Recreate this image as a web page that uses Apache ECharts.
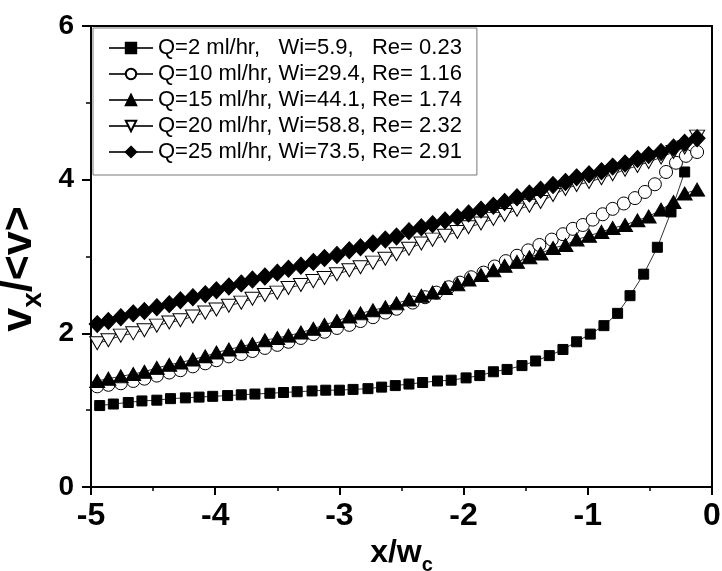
<!DOCTYPE html>
<html>
<head>
<meta charset="utf-8">
<title>Velocity profiles</title>
<script src="https://cdn.jsdelivr.net/npm/echarts@6/dist/echarts.min.js"></script>
<style>
  html, body { margin: 0; padding: 0; background: #fff; }
  #chart { width: 722px; height: 571px; }
</style>
</head>
<body>
<div id="chart"></div>
<script>
// Normalised velocity v_x/<v> against position x/w_c for five flow rates.

// x positions shared by the Q = 15, 20 and 25 ml/hr profiles
const xShared = [-4.95, -4.86, -4.76, -4.66, -4.57, -4.47, -4.37, -4.28, -4.18, -4.08,
  -3.99, -3.89, -3.79, -3.70, -3.60, -3.50, -3.41, -3.31, -3.21, -3.12,
  -3.02, -2.92, -2.83, -2.73, -2.63, -2.54, -2.44, -2.34, -2.25, -2.15,
  -2.05, -1.96, -1.86, -1.76, -1.67, -1.57, -1.47, -1.38, -1.28, -1.18,
  -1.09, -0.99, -0.89, -0.80, -0.70, -0.60, -0.51, -0.41, -0.31, -0.22, -0.12];

// Q = 2 ml/hr
const xQ2 = [-4.93, -4.82, -4.70, -4.59, -4.47, -4.36, -4.24, -4.13, -4.02, -3.90,
  -3.79, -3.68, -3.56, -3.45, -3.34, -3.22, -3.11, -3.00, -2.89, -2.77,
  -2.66, -2.55, -2.44, -2.33, -2.21, -2.10, -1.98, -1.87, -1.76, -1.65,
  -1.53, -1.42, -1.31, -1.20, -1.09, -0.98, -0.87, -0.76, -0.66, -0.55,
  -0.44, -0.33, -0.22];
const vQ2 = [1.06, 1.08, 1.10, 1.12, 1.13, 1.15, 1.16, 1.17, 1.18, 1.19,
  1.20, 1.21, 1.22, 1.23, 1.24, 1.25, 1.26, 1.26, 1.27, 1.28,
  1.30, 1.32, 1.34, 1.36, 1.38, 1.39, 1.42, 1.45, 1.50, 1.53,
  1.58, 1.64, 1.71, 1.79, 1.89, 1.99, 2.10, 2.26, 2.49, 2.77,
  3.12, 3.58, 4.10];

// Q = 10 ml/hr (denser sampling towards the wall)
const xQ10 = [-4.95, -4.86, -4.76, -4.66, -4.57, -4.47, -4.37, -4.28, -4.18, -4.08,
  -3.99, -3.89, -3.79, -3.70, -3.60, -3.50, -3.41, -3.31, -3.21, -3.12,
  -3.02, -2.92, -2.83, -2.73, -2.63, -2.54,
  -2.41, -2.31, -2.22, -2.12, -2.03, -1.94, -1.84, -1.75, -1.66, -1.57,
  -1.48, -1.39, -1.29, -1.20, -1.12, -1.04, -0.96, -0.88, -0.80, -0.71,
  -0.62, -0.54, -0.46, -0.37, -0.29, -0.21, -0.12];
const vQ10 = [1.31, 1.33, 1.35, 1.38, 1.41, 1.45, 1.49, 1.52, 1.57, 1.61,
  1.65, 1.70, 1.73, 1.77, 1.81, 1.85, 1.89, 1.94, 1.99, 2.02,
  2.07, 2.11, 2.16, 2.21, 2.27, 2.32,
  2.40, 2.47, 2.53, 2.60, 2.66, 2.73, 2.79, 2.87, 2.94, 3.01,
  3.08, 3.15, 3.22, 3.29, 3.36, 3.41, 3.48, 3.55, 3.62, 3.69,
  3.76, 3.84, 3.94, 4.10, 4.22, 4.31, 4.36];

// Q = 15 ml/hr
const vQ15 = [1.38, 1.41, 1.44, 1.47, 1.50, 1.55, 1.59, 1.62, 1.66, 1.70,
  1.75, 1.79, 1.83, 1.86, 1.91, 1.94, 1.97, 2.01, 2.06, 2.11,
  2.16, 2.22, 2.26, 2.30, 2.34, 2.39, 2.44, 2.49, 2.53, 2.59,
  2.64, 2.70, 2.76, 2.82, 2.88, 2.93, 2.99, 3.04, 3.11, 3.15,
  3.22, 3.27, 3.32, 3.37, 3.41, 3.47, 3.52, 3.61, 3.71, 3.82, 3.87];

// Q = 20 ml/hr
const vQ20 = [1.87, 1.91, 1.97, 2.00, 2.04, 2.10, 2.14, 2.17, 2.22, 2.27,
  2.31, 2.36, 2.40, 2.45, 2.50, 2.53, 2.59, 2.63, 2.68, 2.72,
  2.77, 2.82, 2.86, 2.92, 2.97, 3.03, 3.10, 3.17, 3.22, 3.27,
  3.32, 3.38, 3.43, 3.49, 3.54, 3.61, 3.66, 3.71, 3.80, 3.88,
  3.93, 3.97, 4.02, 4.07, 4.13, 4.18, 4.23, 4.29, 4.36, 4.42, 4.56];

// Q = 25 ml/hr
const vQ25 = [2.12, 2.16, 2.21, 2.26, 2.29, 2.34, 2.38, 2.43, 2.47, 2.51,
  2.56, 2.61, 2.65, 2.70, 2.74, 2.79, 2.84, 2.88, 2.93, 2.98,
  3.02, 3.08, 3.12, 3.17, 3.22, 3.26, 3.33, 3.38, 3.42, 3.47,
  3.51, 3.56, 3.61, 3.66, 3.71, 3.77, 3.82, 3.87, 3.93, 3.97,
  4.03, 4.07, 4.11, 4.17, 4.21, 4.27, 4.32, 4.36, 4.42, 4.48, 4.54];

const legendNames = [
  'Q=2 ml/hr,   Wi=5.9,   Re= 0.23',
  'Q=10 ml/hr, Wi=29.4, Re= 1.16',
  'Q=15 ml/hr, Wi=44.1, Re= 1.74',
  'Q=20 ml/hr, Wi=58.8, Re= 2.32',
  'Q=25 ml/hr, Wi=73.5, Re= 2.91'
];

const xTicks = { min: -5, max: 0, interval: 1 };
const yTicks = { min: 0, max: 6, interval: 2 };

const FONT = 'Liberation Sans, Arial, sans-serif';
const pairs = (xs, ys) => xs.map((x, i) => [x, ys[i]]);

const chart = echarts.init(document.getElementById('chart'), null, { renderer: 'canvas' });

const filled = { color: '#000', borderColor: '#000', borderWidth: 1 };
const hollow = { color: '#fff', borderColor: '#000', borderWidth: 1 };
const thinLine = { color: '#333', width: 1 };

function profile(name, data, symbol, size, style) {
  return {
    name: name,
    type: 'line',
    data: data,
    symbol: symbol,
    symbolSize: size,
    showAllSymbol: true,
    itemStyle: style,
    lineStyle: thinLine,
    emphasis: { disabled: true },
    animation: false
  };
}

chart.setOption({
  backgroundColor: '#fff',
  animation: false,
  grid: {
    left: 91, right: 10, top: 26, bottom: 84,
    show: true, borderColor: '#000', borderWidth: 2,
    outerBoundsMode: 'none'
  },
  legend: {
    orient: 'vertical',
    left: 93, top: 28,
    padding: [9, 15, 12, 15],
    itemWidth: 44, itemHeight: 13, itemGap: 4,
    backgroundColor: '#fff',
    borderColor: '#777', borderWidth: 1,
    selectedMode: false,
    textStyle: { fontFamily: FONT, fontSize: 22, lineHeight: 22, color: '#000' },
    data: legendNames
  },
  xAxis: {
    type: 'value',
    min: xTicks.min, max: xTicks.max, interval: xTicks.interval,
    axisLine: { show: true, onZero: false, lineStyle: { color: '#000', width: 2 } },
    axisTick: { show: true, inside: false, length: 8, lineStyle: { color: '#000', width: 2 } },
    minorTick: { show: true, splitNumber: 2, length: 4, lineStyle: { color: '#000', width: 1.5 } },
    splitLine: { show: false },
    axisLabel: { margin: 13, color: '#000', fontFamily: FONT, fontSize: 32, fontWeight: 'bold' },
    name: '{m|x/w}{s|c}',
    nameLocation: 'middle',
    nameGap: 25,
    nameTextStyle: {
      rich: {
        m: { fontFamily: FONT, fontSize: 32, fontWeight: 'bold', color: '#000', lineHeight: 32, verticalAlign: 'top' },
        s: { fontFamily: FONT, fontSize: 20, fontWeight: 'bold', color: '#000', lineHeight: 20, verticalAlign: 'top', padding: [19, 0, 0, 0] }
      }
    }
  },
  yAxis: {
    type: 'value',
    min: yTicks.min, max: yTicks.max, interval: yTicks.interval,
    axisLine: { show: true, onZero: false, lineStyle: { color: '#000', width: 2 } },
    axisTick: { show: true, inside: false, length: 9, lineStyle: { color: '#000', width: 2 } },
    minorTick: { show: true, splitNumber: 2, length: 5, lineStyle: { color: '#000', width: 1.5 } },
    splitLine: { show: false },
    axisLabel: { margin: 17, color: '#000', fontFamily: FONT, fontSize: 28, fontWeight: 'bold' },
    name: '{m|v}{s|x}{m|/<v>}{gap|}',
    nameLocation: 'middle',
    nameGap: 19,
    nameTextStyle: {
      rich: {
        m: { fontFamily: FONT, fontSize: 43, fontWeight: 'bold', color: '#000', lineHeight: 43, verticalAlign: 'top' },
        s: { fontFamily: FONT, fontSize: 28, fontWeight: 'bold', color: '#000', lineHeight: 28, verticalAlign: 'top', padding: [22, 0, 0, 0] },
        gap: { width: 25, lineHeight: 43 }
      }
    }
  },
  series: [
    profile(legendNames[0], pairs(xQ2, vQ2), 'rect', 10, filled),
    profile(legendNames[1], pairs(xQ10, vQ10), 'circle', 13, hollow),
    profile(legendNames[2], pairs(xShared, vQ15), 'triangle', [15, 13], filled),
    profile(legendNames[3], pairs(xShared, vQ20), 'path://M0,0L12,0L6,11Z', [15, 13], hollow),
    profile(legendNames[4], pairs(xShared, vQ25), 'diamond', [16, 17], filled)
  ]
});
</script>
</body>
</html>
